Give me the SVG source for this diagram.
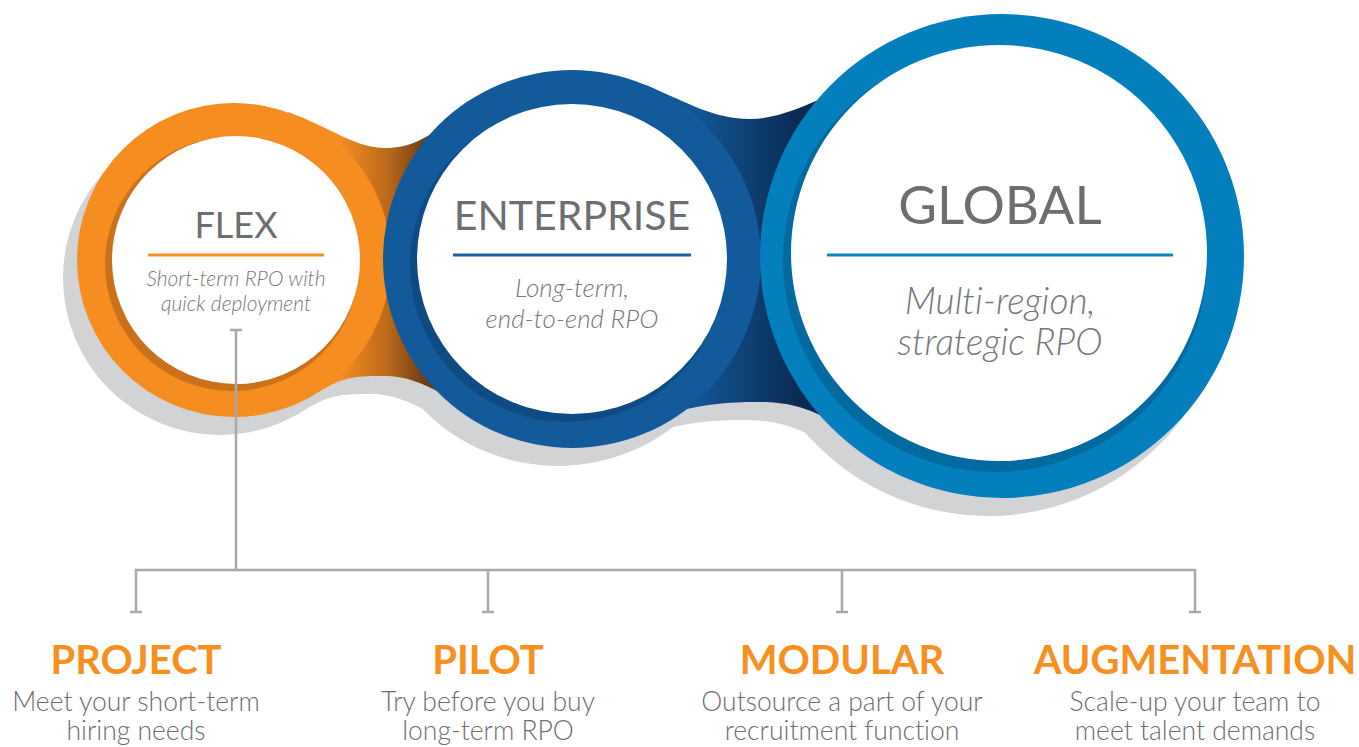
<svg xmlns="http://www.w3.org/2000/svg" xmlns:xlink="http://www.w3.org/1999/xlink" width="1359" height="747" viewBox="0 0 1359 747">
<style>
text{font-variant-ligatures:none;font-feature-settings:"liga" 0}
.ttl{font-family:Lato,"Noto Sans","DejaVu Sans",sans-serif;fill:#6D6E71;text-anchor:middle;font-weight:400}
.sub{font-family:Lato,"Noto Sans","DejaVu Sans",sans-serif;fill:#77787B;text-anchor:middle;font-style:italic;font-weight:300}
.lbl{font-family:Lato,"Noto Sans","DejaVu Sans",sans-serif;fill:#F7901E;text-anchor:middle;font-weight:700;font-size:40px}
.dsc{font-family:Lato,"Noto Sans","DejaVu Sans",sans-serif;fill:#6D6E71;text-anchor:middle;font-weight:300;font-size:26.5px}
.con{stroke:#A7A9AC;stroke-width:2.5;fill:none}
</style>
<defs>
<circle id="oF" cx="234" cy="260" r="157"/>
<circle id="oE" cx="572" cy="259" r="189"/>
<circle id="oG" cx="1002" cy="256" r="242"/>
<path id="bA" d="M288,112 C330,127 355,148 385,148 C410,148 428,138 450,120 L445,395 C420,382 405,376 385,376 C360,376 345,376 324,389 Z"/>
<path id="bB" d="M646,85 C690,104 715,119 750,119 C775,119 800,108 830,95 L830,420 C800,404 780,402 755,402 C730,402 705,404 675,412 Z"/>
<linearGradient id="gA" gradientUnits="userSpaceOnUse" x1="340" y1="0" x2="428" y2="0">
<stop offset="0" stop-color="#F48D22"/>
<stop offset="0.55" stop-color="#B9681A"/>
<stop offset="1" stop-color="#6A3A12"/>
</linearGradient>
<linearGradient id="gB" gradientUnits="userSpaceOnUse" x1="690" y1="0" x2="800" y2="0">
<stop offset="0" stop-color="#13589A"/>
<stop offset="1" stop-color="#0A2A52"/>
</linearGradient>
</defs>

<g id="shadow" transform="translate(-14,18)" fill="#D1D3D4">
<use xlink:href="#bA"/>
<use xlink:href="#bB"/>
<use xlink:href="#oF"/>
<use xlink:href="#oE"/>
<use xlink:href="#oG"/>
</g>

<use id="bandA" xlink:href="#bA" fill="url(#gA)"/>

<g id="flex">
<use xlink:href="#oF" fill="#F68D20"/>
<circle cx="232" cy="264" r="127" fill="#C9711B"/>
<circle cx="236" cy="260" r="124" fill="#FFFFFF"/>
<text class="ttl" x="236" y="238" font-size="36">FLEX</text>
<line x1="148" y1="255" x2="324" y2="255" stroke="#F7901E" stroke-width="3"/>
<text class="sub" x="236" y="286" font-size="21">Short-term RPO with</text>
<text class="sub" x="236" y="311" font-size="21">quick deployment</text>
</g>

<use id="bandB" xlink:href="#bB" fill="url(#gB)"/>

<g id="enterprise">
<use xlink:href="#oE" fill="#135A9A"/>
<circle cx="567" cy="265" r="157" fill="#0E4A84"/>
<circle cx="572" cy="259" r="155" fill="#FFFFFF"/>
<text class="ttl" x="572" y="230" font-size="41">ENTERPRISE</text>
<line x1="453" y1="255" x2="691" y2="255" stroke="#1F5FA6" stroke-width="3"/>
<text class="sub" x="572" y="297" font-size="26">Long-term,</text>
<text class="sub" x="572" y="328" font-size="26">end-to-end RPO</text>
</g>

<g id="global">
<use xlink:href="#oG" fill="#047FBD"/>
<circle cx="995" cy="260" r="212" fill="#036A9F"/>
<circle cx="999" cy="253" r="208" fill="#FFFFFF"/>
<text class="ttl" x="1000" y="224" font-size="53">GLOBAL</text>
<line x1="827" y1="255" x2="1173" y2="255" stroke="#0A86C6" stroke-width="3"/>
<text class="sub" x="1000" y="314" font-size="37">Multi-region,</text>
<text class="sub" x="1000" y="355" font-size="37">strategic RPO</text>
</g>

<g id="connectors">
<path class="con" d="M230,330 H242 M236,330 V570"/>
<path class="con" d="M136,612 V570 H1195 V612"/>
<path class="con" d="M488,570 V612 M842,570 V612"/>
<path class="con" d="M130,612 H142 M482,612 H494 M836,612 H848 M1189,612 H1201"/>
</g>

<g id="project">
<text class="lbl" x="136" y="674">PROJECT</text>
<text class="dsc" x="136" y="711">Meet your short-term</text>
<text class="dsc" x="136" y="740">hiring needs</text>
</g>
<g id="pilot">
<text class="lbl" x="488" y="674">PILOT</text>
<text class="dsc" x="488" y="711">Try before you buy</text>
<text class="dsc" x="488" y="740">long-term RPO</text>
</g>
<g id="modular">
<text class="lbl" x="842" y="674">MODULAR</text>
<text class="dsc" x="842" y="711">Outsource a part of your</text>
<text class="dsc" x="842" y="740">recruitment function</text>
</g>
<g id="augmentation">
<text class="lbl" x="1195" y="674">AUGMENTATION</text>
<text class="dsc" x="1195" y="711">Scale-up your team to</text>
<text class="dsc" x="1195" y="740">meet talent demands</text>
</g>
</svg>
